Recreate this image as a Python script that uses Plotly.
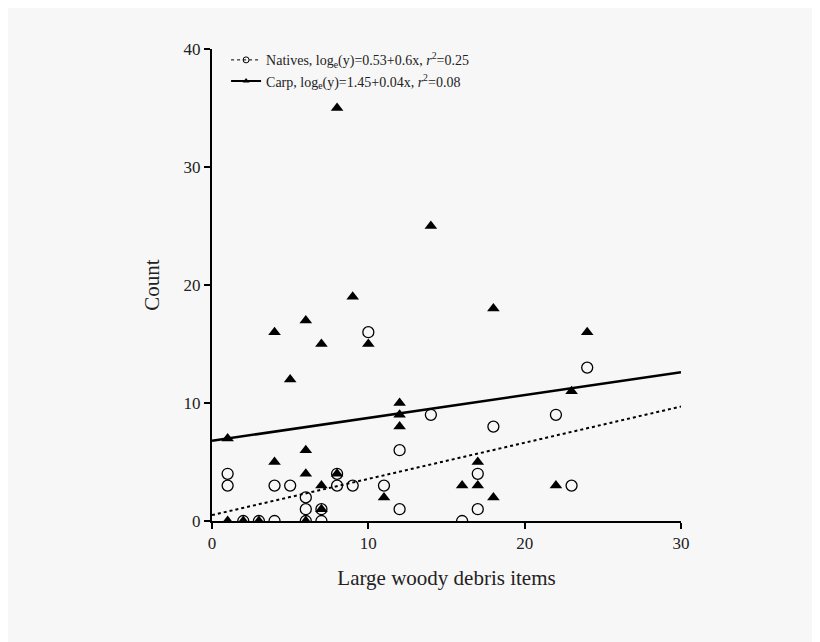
import plotly.graph_objects as go

# Natives (open circles)
nat_x = [1, 1, 2, 3, 4, 4, 5, 6, 6, 6, 7, 7, 8, 8, 9, 10, 11, 12, 12, 14, 16, 17, 17, 18, 22, 23, 24]
nat_y = [4, 3, 0, 0, 0, 3, 3, 2, 1, 0, 0, 1, 3, 4, 3, 16, 3, 6, 1, 9, 0, 4, 1, 8, 9, 3, 13]

# Carp (filled triangles)
carp_x = [1, 1, 2, 3, 4, 4, 5, 6, 6, 6, 6, 7, 7, 7, 8, 8, 9, 10, 11, 12, 12, 12, 14, 16, 17, 17, 18, 18, 22, 23, 24]
carp_y = [7, 0, 0, 0, 16, 5, 12, 17, 6, 4, 0, 15, 3, 1, 35, 4, 19, 15, 2, 10, 9, 8, 25, 3, 5, 3, 18, 2, 3, 11, 16]

# fitted lines (as drawn)
fit_x = [0, 30]
nat_fit = [0.5, 9.7]
carp_fit = [6.8, 12.6]

font = "Liberation Serif, Times New Roman, serif"

fig = go.Figure()
fig.add_trace(go.Scatter(x=fit_x, y=nat_fit, mode="lines", showlegend=False,
                         line=dict(color="black", width=2, dash="dot")))
fig.add_trace(go.Scatter(x=fit_x, y=carp_fit, mode="lines", showlegend=False,
                         line=dict(color="black", width=2.5)))
fig.add_trace(go.Scatter(x=nat_x, y=nat_y, mode="markers", showlegend=False,
                         marker=dict(symbol="circle-open", size=11, color="black", line=dict(width=1.3))))
fig.add_trace(go.Scatter(x=carp_x, y=carp_y, mode="markers", showlegend=False,
                         marker=dict(symbol="triangle-up", size=11, color="black")))
# legend entries
fig.add_trace(go.Scatter(x=[None], y=[None], mode="lines+markers",
                         name="Natives, log<sub>e</sub>(y)=0.53+0.6x, <i>r</i><sup>2</sup>=0.25",
                         marker=dict(symbol="circle-open", size=6, color="black"),
                         line=dict(color="black", width=1, dash="dot")))
fig.add_trace(go.Scatter(x=[None], y=[None], mode="lines+markers",
                         name="Carp, log<sub>e</sub>(y)=1.45+0.04x, <i>r</i><sup>2</sup>=0.08",
                         marker=dict(symbol="triangle-up", size=6, color="black"),
                         line=dict(color="black", width=2)))

axis = dict(showgrid=False, zeroline=False, showline=True, linecolor="black", linewidth=2,
            ticks="outside", tickcolor="black", ticklen=6, tickwidth=1.5,
            tickfont=dict(size=17, color="#222"))
fig.update_layout(
    width=820, height=642,
    margin=dict(l=204, r=147, t=41, b=129),
    paper_bgcolor="#f7f7f7", plot_bgcolor="#f7f7f7",
    font=dict(family=font, color="#222"),
    xaxis=dict(axis, range=[0, 30], tickvals=[0, 10, 20, 30],
               title=dict(text="Large woody debris items", font=dict(size=21), standoff=18)),
    yaxis=dict(axis, range=[0, 40], tickvals=[0, 10, 20, 30, 40],
               title=dict(text="Count", font=dict(size=21), standoff=18)),
    legend=dict(x=0.03, y=1.01, xanchor="left", yanchor="top", bgcolor="rgba(0,0,0,0)",
                font=dict(size=14), itemwidth=30, tracegroupgap=4),
)
fig.write_html("out.html")
